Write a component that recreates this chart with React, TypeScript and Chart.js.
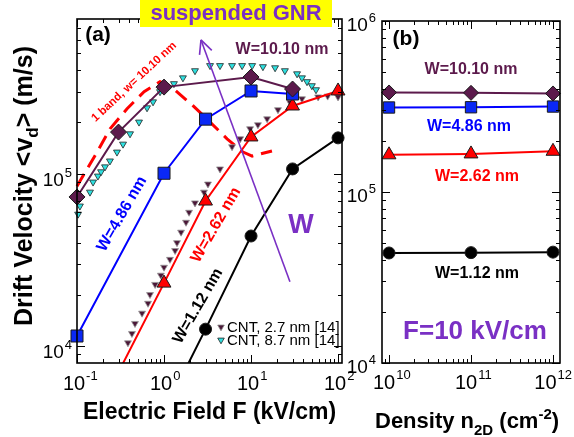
import React, { useEffect, useRef } from "react";
import { Chart, registerables } from "chart.js";
Chart.register(...registerables);

const FONT = '"Liberation Sans", Arial, Helvetica, sans-serif';

// ---------- Panel (a): drift velocity vs electric field ----------
const fieldW1010 = [0.1, 0.3, 1, 10, 30];
const velW1010 = [7.36e4, 1.75e5, 3.19e5, 3.65e5, 3.11e5];
const fieldW486 = [0.1, 1, 3, 10, 30];
const velW486 = [1.15e4, 1.01e5, 2.08e5, 3.03e5, 2.91e5];
const fieldW262 = [0.3, 1, 3, 10, 30, 100];
const velW262 = [7.1e3, 2.33e4, 6.97e4, 1.64e5, 2.48e5, 3.03e5];
const fieldW112 = [1, 3, 10, 30, 100];
const velW112 = [4.17e3, 1.26e4, 4.37e4, 1.07e5, 1.62e5];

const fieldOneBand = [0.1, 0.17, 0.24, 0.376, 0.59, 0.9, 1.17, 2.15, 3.38, 5.3, 8.1, 10.3, 17.4];
const velOneBand = [8.5e4, 1.34e5, 1.83e5, 2.39e5, 3.0e5, 3.43e5, 3.25e5, 2.49e5, 2.0e5, 1.6e5, 1.34e5, 1.27e5, 1.36e5];

const fieldCnt27 = [0.385, 0.428, 0.464, 0.559, 0.655, 0.69, 0.79, 0.92, 1.0, 1.17, 1.34, 1.41, 1.57, 1.79, 1.94, 2.27, 2.88, 3.2, 4.4, 6.05, 7.5, 9.75, 12, 15.3, 20.4, 28, 38.5, 59, 76, 100];
const velCnt27 = [1.05e4, 1.19e4, 1.36e4, 1.56e4, 1.78e4, 2.0e4, 2.29e4, 2.59e4, 2.88e4, 3.2e4, 3.6e4, 4.0e4, 4.6e4, 5.25e4, 6.0e4, 6.8e4, 7.85e4, 8.75e4, 1.07e5, 1.44e5, 1.6e5, 1.83e5, 1.93e5, 2.09e5, 2.36e5, 2.61e5, 2.73e5, 2.8e5, 2.83e5, 2.8e5];

const fieldCnt87 = [0.103, 0.108, 0.141, 0.153, 0.174, 0.189, 0.21, 0.239, 0.288, 0.338, 0.407, 0.516, 0.638, 0.748, 0.9, 1.03, 1.3, 1.65, 2.27, 3.38, 4.4, 6.05, 7.9, 10.3, 13.7, 18.9, 24.5, 33.8, 38.5, 44, 50, 55.8];
const velCnt87 = [5.85e4, 6.52e4, 7.85e4, 8.98e4, 9.73e4, 1.03e5, 1.1e5, 1.19e5, 1.34e5, 1.49e5, 1.71e5, 2.0e5, 2.42e5, 2.62e5, 3.0e5, 3.12e5, 3.34e5, 3.61e5, 3.97e5, 4.25e5, 4.25e5, 4.25e5, 4.25e5, 4.25e5, 4.19e5, 4.13e5, 3.97e5, 3.81e5, 3.61e5, 3.43e5, 3.25e5, 3.08e5];

const fieldTickExps = [-1, 0, 1, 2];
const velTickExpsA = [4, 5];
const fieldRange = [0.1, 111];
const velRangeA = [8.02e3, 7.92e5];

// arrow "W" (tail -> head), data coordinates
const arrowField = [28, 2.66];
const arrowVel = [2.37e4, 5.99e5];

// ---------- Panel (b): drift velocity vs density at F = 10 kV/cm ----------
const density = [1e10, 1e11, 1e12];
const velB1010 = [3.82e5, 3.8e5, 3.77e5];
const velB486 = [3.12e5, 3.13e5, 3.16e5];
const velB262 = [1.65e5, 1.67e5, 1.73e5];
const velB112 = [4.4e4, 4.42e4, 4.45e4];
const densityTickExps = [10, 11, 12];
const velTickExpsB = [4, 5, 6];
const densityRange = [8.21e9, 1.217e12];
const velRangeB = [1e4, 1e6];

const PURPLE_DARK = "#5c1a4c";
const VIOLET = "#7a30c4";
const BLUE = "#0000ff";
const RED = "#ff0000";

const zip = (xs: number[], ys: number[]) => xs.map((x, i) => ({ x, y: ys[i] }));
const CLIP = { left: 15, right: 15, top: 15, bottom: 0 };

function gnr(label: string, xs: number[], ys: number[], color: string, fill: string, style: string, r: number) {
  return {
    label,
    data: zip(xs, ys),
    borderColor: color,
    borderWidth: 2,
    pointStyle: style,
    pointRadius: r,
    pointBackgroundColor: fill,
    pointBorderColor: "#1a1a1a",
    pointBorderWidth: 1,
    tension: 0,
    fill: false,
    clip: CLIP,
  };
}

function logTicks(min: number, max: number) {
  const out: { v: number; major: boolean }[] = [];
  for (let e = Math.floor(Math.log10(min)); e <= Math.ceil(Math.log10(max)); e++) {
    for (let m = 1; m <= 9; m++) {
      const v = m * Math.pow(10, e);
      if (v >= min * 0.999 && v <= max * 1.001) out.push({ v, major: m === 1 });
    }
  }
  return out;
}

function line(ctx: CanvasRenderingContext2D, x1: number, y1: number, x2: number, y2: number) {
  ctx.beginPath();
  ctx.moveTo(x1, y1);
  ctx.lineTo(x2, y2);
  ctx.stroke();
}

function drawFrame(chart: any, xr: number[], yr: number[]) {
  const { ctx, chartArea: a, scales } = chart;
  ctx.save();
  ctx.strokeStyle = "#000";
  ctx.lineWidth = 1;
  for (const t of logTicks(xr[0], xr[1])) {
    const p = Math.round(scales.x.getPixelForValue(t.v)) + 0.5;
    const L = t.major ? 8 : 4;
    line(ctx, p, a.bottom, p, a.bottom - L);
    line(ctx, p, a.top, p, a.top + L);
  }
  for (const t of logTicks(yr[0], yr[1])) {
    const p = Math.round(scales.y.getPixelForValue(t.v)) + 0.5;
    const L = t.major ? 8 : 4;
    line(ctx, a.left, p, a.left + L, p);
    line(ctx, a.right, p, a.right - L, p);
  }
  ctx.lineWidth = 1.6;
  ctx.strokeRect(a.left, a.top, a.right - a.left, a.bottom - a.top);
  ctx.restore();
}

function drawPow(ctx: CanvasRenderingContext2D, x: number, y: number, exp: number, mode: "center" | "right", main: number, sup: number, maxRight = 10000) {
  ctx.save();
  ctx.fillStyle = "#000";
  ctx.textBaseline = "alphabetic";
  ctx.textAlign = "left";
  ctx.font = `${main}px ${FONT}`;
  const w10 = ctx.measureText("10").width;
  ctx.font = `${sup}px ${FONT}`;
  const es = String(exp);
  const we = ctx.measureText(es).width;
  let x0 = mode === "center" ? x - w10 / 2 : x - w10 - we - 1;
  if (x0 + w10 + 1 + we > maxRight) x0 = maxRight - w10 - 1 - we;
  ctx.font = `${main}px ${FONT}`;
  ctx.fillText("10", x0, y);
  ctx.font = `${sup}px ${FONT}`;
  ctx.fillText(es, x0 + w10 + 1, y - main * 0.5);
  ctx.restore();
}

function text(ctx: CanvasRenderingContext2D, s: string, x: number, y: number, font: string, color: string, deg = 0) {
  ctx.save();
  ctx.translate(x, y);
  if (deg) ctx.rotate((deg * Math.PI) / 180);
  ctx.font = font;
  ctx.fillStyle = color;
  ctx.textAlign = "center";
  ctx.textBaseline = "middle";
  ctx.fillText(s, 0, 0);
  ctx.restore();
}

// sequence of [text, size, dy] drawn consecutively
function runs(ctx: CanvasRenderingContext2D, parts: [string, number, number][], x: number, y: number, align: "left" | "center") {
  ctx.save();
  ctx.fillStyle = "#000";
  ctx.textBaseline = "alphabetic";
  ctx.textAlign = "left";
  let total = 0;
  for (const [s, sz] of parts) {
    ctx.font = `bold ${sz}px ${FONT}`;
    total += ctx.measureText(s).width;
  }
  let cx = align === "center" ? x - total / 2 : x;
  for (const [s, sz, dy] of parts) {
    ctx.font = `bold ${sz}px ${FONT}`;
    ctx.fillText(s, cx, y + dy);
    cx += ctx.measureText(s).width;
  }
  ctx.restore();
}

function downTri(ctx: CanvasRenderingContext2D, cx: number, cy: number, r: number, fill: string, stroke: string) {
  ctx.beginPath();
  ctx.moveTo(cx, cy + r);
  ctx.lineTo(cx - r * 0.866, cy - r / 2);
  ctx.lineTo(cx + r * 0.866, cy - r / 2);
  ctx.closePath();
  ctx.fillStyle = fill;
  ctx.fill();
  ctx.strokeStyle = stroke;
  ctx.lineWidth = 0.8;
  ctx.stroke();
}

const panelAPlugin = {
  id: "panelA",
  afterDraw(chart: any) {
    const { ctx, chartArea: a, scales } = chart;
    drawFrame(chart, fieldRange, velRangeA);
    for (const e of fieldTickExps) drawPow(ctx, scales.x.getPixelForValue(Math.pow(10, e)) - 3, a.bottom + 27, e, "center", 20, 13);
    for (const e of velTickExpsA) drawPow(ctx, a.left - 5, scales.y.getPixelForValue(Math.pow(10, e)) + 12, e, "right", 19, 13);

    // axis titles
    runs(ctx, [["Electric Field F (kV/cm)", 23, 0]], (a.left + a.right) / 2, 419, "center");
    ctx.save();
    ctx.translate(32, 186);
    ctx.rotate(-Math.PI / 2);
    runs(ctx, [["Drift Velocity <v", 25, 0], ["d", 17, 6], ["> (m/s)", 25, 0]], 0, 0, "center");
    ctx.restore();

    // panel label and header
    text(ctx, "(a)", 98, 35, `bold 21px ${FONT}`, "#000");
    ctx.save();
    ctx.fillStyle = "#ffff00";
    ctx.fillRect(140, 0, 192, 27);
    ctx.restore();
    text(ctx, "suspended GNR", 236, 14, `bold 22px ${FONT}`, VIOLET);
    text(ctx, "W=10.10 nm", 282, 50, `bold 16px ${FONT}`, PURPLE_DARK);

    // arrow
    const x1 = scales.x.getPixelForValue(arrowField[0]);
    const y1 = scales.y.getPixelForValue(arrowVel[0]);
    const x2 = scales.x.getPixelForValue(arrowField[1]);
    const y2 = scales.y.getPixelForValue(arrowVel[1]);
    ctx.save();
    ctx.strokeStyle = VIOLET;
    ctx.lineWidth = 1.6;
    line(ctx, x1, y1, x2, y2);
    const ang = Math.atan2(y1 - y2, x1 - x2);
    for (const d of [0.45, -0.45]) line(ctx, x2, y2, x2 + 15 * Math.cos(ang + d), y2 + 15 * Math.sin(ang + d));
    ctx.restore();
    text(ctx, "W", 301, 226, `bold 27px ${FONT}`, VIOLET);

    // rotated curve labels
    text(ctx, "1 band, w= 10.10 nm", 134, 82, `bold 11.5px ${FONT}`, RED, -43);
    text(ctx, "W=4.86 nm", 122, 214, `bold 16px ${FONT}`, BLUE, -60);
    text(ctx, "W=2.62 nm", 216, 225, `bold 16px ${FONT}`, RED, -60);
    text(ctx, "W=1.12 nm", 198, 306, `bold 16px ${FONT}`, "#000", -60);

    // legend
    downTri(ctx, 221, 327, 3.8, "#4b1838", "#888");
    downTri(ctx, 221, 340, 3.8, "#2ee0e0", "#222");
    ctx.save();
    ctx.fillStyle = "#000";
    ctx.font = `15px ${FONT}`;
    ctx.textAlign = "left";
    ctx.textBaseline = "alphabetic";
    ctx.fillText("CNT, 2.7 nm [14]", 227, 332);
    ctx.fillText("CNT, 8.7 nm [14]", 227, 345);
    ctx.restore();
  },
};

const panelBPlugin = {
  id: "panelB",
  afterDraw(chart: any) {
    const { ctx, chartArea: a, scales } = chart;
    drawFrame(chart, densityRange, velRangeB);
    for (const e of densityTickExps) drawPow(ctx, scales.x.getPixelForValue(Math.pow(10, e)) - 5, a.bottom + 26, e, "center", 20, 13, 572);
    for (const e of velTickExpsB) drawPow(ctx, a.left - 6, scales.y.getPixelForValue(Math.pow(10, e)) + 10, e, "right", 19, 13);

    runs(ctx, [["Density n", 22, 0], ["2D", 15, 7], [" (cm", 22, 0], ["-2", 15, -9], [")", 22, 0]], 375, 428, "left");

    text(ctx, "(b)", 406, 39, `bold 21px ${FONT}`, "#000");
    text(ctx, "W=10.10 nm", 471, 70, `bold 16px ${FONT}`, PURPLE_DARK);
    text(ctx, "W=4.86 nm", 469, 127, `bold 16px ${FONT}`, BLUE);
    text(ctx, "W=2.62 nm", 477, 177, `bold 16px ${FONT}`, RED);
    text(ctx, "W=1.12 nm", 477, 274, `bold 16px ${FONT}`, "#000");
    text(ctx, "F=10 kV/cm", 475, 332, `bold 26px ${FONT}`, VIOLET);
  },
};

function baseOptions(xr: number[], yr: number[], padding: any) {
  return {
    responsive: false,
    animation: false as const,
    devicePixelRatio: 1,
    events: [] as any[],
    layout: { padding },
    plugins: { legend: { display: false }, tooltip: { enabled: false } },
    scales: {
      x: { type: "logarithmic" as const, min: xr[0], max: xr[1], display: false, bounds: "data" as const },
      y: { type: "logarithmic" as const, min: yr[0], max: yr[1], display: false, bounds: "data" as const },
    },
  };
}

export default function App() {
  const refA = useRef<HTMLCanvasElement>(null);
  const refB = useRef<HTMLCanvasElement>(null);

  useEffect(() => {
    const chartA = new Chart(refA.current!, {
      type: "line",
      data: {
        datasets: [
          gnr("W=10.10 nm", fieldW1010, velW1010, PURPLE_DARK, PURPLE_DARK, "rectRot", 8),
          gnr("W=4.86 nm", fieldW486, velW486, BLUE, "#0a28f5", "rect", 8.5),
          gnr("W=2.62 nm", fieldW262, velW262, RED, RED, "triangle", 8),
          gnr("W=1.12 nm", fieldW112, velW112, "#000", "#000", "circle", 6),
          {
            label: "CNT, 2.7 nm [14]",
            data: zip(fieldCnt27, velCnt27),
            showLine: false,
            pointStyle: "triangle",
            rotation: 180,
            pointRadius: 4,
            pointBackgroundColor: "#4b1838",
            pointBorderColor: "#999",
            pointBorderWidth: 0.8,
            clip: CLIP,
          },
          {
            label: "CNT, 8.7 nm [14]",
            data: zip(fieldCnt87, velCnt87),
            showLine: false,
            pointStyle: "triangle",
            rotation: 180,
            pointRadius: 4,
            pointBackgroundColor: "#2ee0e0",
            pointBorderColor: "#222",
            pointBorderWidth: 0.8,
            clip: CLIP,
          },
          {
            label: "1 band, w= 10.10 nm",
            data: zip(fieldOneBand, velOneBand),
            borderColor: RED,
            borderWidth: 3,
            borderDash: [14, 8],
            pointRadius: 0,
            tension: 0,
            fill: false,
            clip: CLIP,
          },
        ] as any,
      },
      options: baseOptions(fieldRange, velRangeA, { left: 77, top: 19, right: 232, bottom: 74 }) as any,
      plugins: [panelAPlugin],
    });

    const chartB = new Chart(refB.current!, {
      type: "line",
      data: {
        datasets: [
          gnr("W=10.10 nm", density, velB1010, PURPLE_DARK, PURPLE_DARK, "rectRot", 7.5),
          gnr("W=4.86 nm", density, velB486, BLUE, "#0a28f5", "rect", 8),
          gnr("W=2.62 nm", density, velB262, RED, RED, "triangle", 8),
          gnr("W=1.12 nm", density, velB112, "#000", "#000", "circle", 6),
        ] as any,
      },
      options: baseOptions(densityRange, velRangeB, { left: 382, top: 21, right: 14, bottom: 74 }) as any,
      plugins: [panelBPlugin],
    });

    return () => {
      chartA.destroy();
      chartB.destroy();
    };
  }, []);

  return (
    <div style={{ position: "absolute", left: 0, top: 0, width: 574, height: 437, background: "#fff" }}>
      <canvas ref={refA} width={574} height={437} style={{ position: "absolute", left: 0, top: 0 }} />
      <canvas ref={refB} width={574} height={437} style={{ position: "absolute", left: 0, top: 0 }} />
    </div>
  );
}
